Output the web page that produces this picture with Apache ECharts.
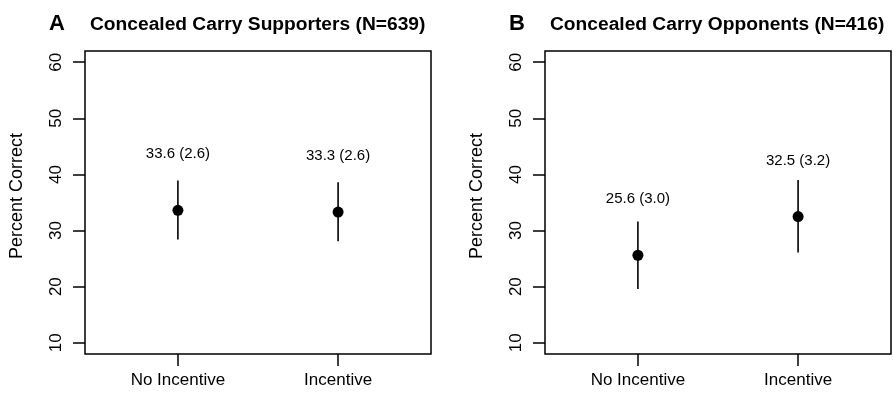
<!DOCTYPE html>
<html>
<head>
<meta charset="utf-8">
<script src="https://cdn.jsdelivr.net/npm/echarts@6/dist/echarts.min.js"></script>
<style>html,body{margin:0;padding:0;background:#fff}#c{width:893px;height:394px}</style>
</head>
<body>
<div id="c"></div>
<script>
// ---- data ----
const categories = ['No Incentive', 'Incentive'];
const catPos = [1, 2];
const yTicks = [10, 20, 30, 40, 50, 60];

const panelLetters = ['A', 'B'];
const panelTitles = ['Concealed Carry Supporters (N=639)', 'Concealed Carry Opponents (N=416)'];

const meanA = [33.6, 33.3];
const seA   = [2.6, 2.6];
const loA   = [28.4, 28.1];
const hiA   = [38.9, 38.6];

const meanB = [25.6, 32.5];
const seB   = [3.0, 3.2];
const loB   = [19.6, 26.1];
const hiB   = [31.6, 39.0];

// ---- chart ----
const FONT = 'Liberation Sans, Arial, Helvetica, sans-serif';
const chart = echarts.init(document.getElementById('c'), null, {renderer: 'canvas'});

const grids = [
  {left: 85, top: 51, width: 346, height: 303},
  {left: 545, top: 51, width: 346, height: 303}
];
const panels = [
  {mean: meanA, se: seA, lo: loA, hi: hiA},
  {mean: meanB, se: seB, lo: loB, hi: hiB}
];

const option = {
  animation: false,
  backgroundColor: '#fff',
  title: [],
  grid: [],
  xAxis: [],
  yAxis: [],
  series: []
};

grids.forEach((g, i) => {
  option.grid.push(Object.assign({show: true, borderColor: '#000', borderWidth: 1.5, backgroundColor: 'transparent'}, g));
  option.title.push({
    text: panelLetters[i], left: g.left - 36, top: 13, padding: 0,
    textStyle: {fontFamily: FONT, fontSize: 22, fontWeight: 'bold', color: '#000'}
  });
  option.title.push({
    text: panelTitles[i], left: g.left + 5, top: 15, padding: 0,
    textStyle: {fontFamily: FONT, fontSize: 19.2, fontWeight: 'bold', color: '#000'}
  });
  option.xAxis.push({
    type: 'value', gridIndex: i, min: 0.42, max: 2.58,
    axisLine: {show: false},
    splitLine: {show: false},
    axisTick: {show: true, customValues: catPos, length: 12, lineStyle: {color: '#000', width: 1.5}},
    axisLabel: {
      customValues: catPos, margin: 18, color: '#000', fontFamily: FONT, fontSize: 17,
      formatter: v => categories[catPos.indexOf(Math.round(v))] || ''
    }
  });
  option.yAxis.push({
    type: 'value', gridIndex: i, min: 8, max: 62,
    name: 'Percent Correct', nameLocation: 'middle', nameGap: 59,
    nameTextStyle: {color: '#000', fontFamily: FONT, fontSize: 18, padding: [0, 0, 0, 13]},
    axisLine: {show: false},
    splitLine: {show: false},
    axisTick: {show: true, customValues: yTicks, length: 12, lineStyle: {color: '#000', width: 1.5}},
    axisLabel: {
      customValues: yTicks, rotate: 90, margin: 20, color: '#000', fontFamily: FONT, fontSize: 17
    }
  });

  const p = panels[i];
  // error bars
  option.series.push({
    type: 'custom', xAxisIndex: i, yAxisIndex: i,
    data: catPos.map((x, k) => [x, p.lo[k], p.hi[k]]),
    renderItem: (params, api) => {
      const a = api.coord([api.value(0), api.value(1)]);
      const b = api.coord([api.value(0), api.value(2)]);
      return {type: 'line', shape: {x1: a[0], y1: a[1], x2: b[0], y2: b[1]},
              style: {stroke: '#000', lineWidth: 1.6}};
    },
    z: 2
  });
  // points
  option.series.push({
    type: 'scatter', xAxisIndex: i, yAxisIndex: i,
    data: catPos.map((x, k) => [x, p.mean[k]]),
    symbol: 'circle', symbolSize: 11,
    itemStyle: {color: '#000', opacity: 1}, z: 3
  });
  // value labels (placed 10 units above the point)
  option.series.push({
    type: 'scatter', xAxisIndex: i, yAxisIndex: i,
    data: catPos.map((x, k) => ({value: [x, p.mean[k] + 10], txt: p.mean[k].toFixed(1) + ' (' + p.se[k].toFixed(1) + ')'})),
    symbolSize: 1, itemStyle: {color: 'transparent'},
    label: {
      show: true, position: 'inside', color: '#000', opacity: 1, fontFamily: FONT, fontSize: 15,
      formatter: prm => prm.data.txt
    },
    silent: true, z: 4
  });
});

chart.setOption(option);
</script>
</body>
</html>
